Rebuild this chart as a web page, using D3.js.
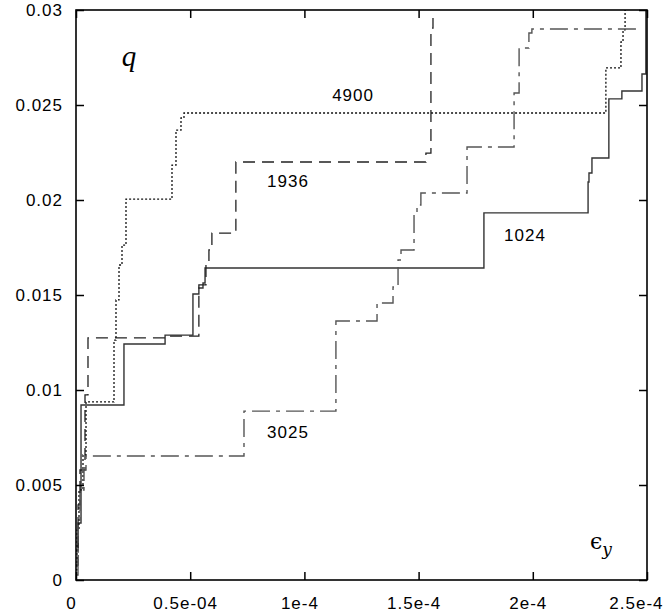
<!DOCTYPE html>
<html>
<head>
<meta charset="utf-8">
<script src="https://cdn.jsdelivr.net/npm/d3@7"></script>
<style>
  body { margin: 0; background: #fff; }
  svg { display: block; }
  .tick text { font-family: "Liberation Sans", Arial, sans-serif; font-size: 17px; letter-spacing: 1px; fill: #000; }
  .lbl { font-family: "Liberation Sans", Arial, sans-serif; font-size: 17px; letter-spacing: 1px; fill: #000; }
</style>
</head>
<body>
<div id="chart"></div>
<script>
// ---- data ----
var xTicks = [0, 0.5e-4, 1e-4, 1.5e-4, 2e-4, 2.5e-4];
var xTickLabels = ["0", "0.5e-04", "1e-4", "1.5e-4", "2e-4", "2.5e-4"];
var yTicks = [0, 0.005, 0.01, 0.015, 0.02, 0.025, 0.03];
var yTickLabels = ["0", "0.005", "0.01", "0.015", "0.02", "0.025", "0.03"];

// N = 1024 (solid)
var eps1024 = [0, 0.9e-6, 2.2e-6, 2.10e-5, 3.90e-5, 5.12e-5, 5.38e-5, 5.56e-5, 5.65e-5, 1.786e-4, 2.242e-4, 2.246e-4, 2.259e-4, 2.333e-4, 2.390e-4, 2.478e-4, 2.495e-4];
var q1024   = [0.00153, 0.0030, 0.00921, 0.01242, 0.01289, 0.01505, 0.01537, 0.01563, 0.01642, 0.01932, 0.02095, 0.02142, 0.02221, 0.02532, 0.02574, 0.02663, 0.030];

// N = 1936 (dashed)
var eps1936 = [0, 0.9e-6, 1.75e-6, 3.94e-6, 5.25e-6, 3.98e-5, 5.38e-5, 5.69e-5, 5.82e-5, 5.95e-5, 7.0e-5, 1.532e-4, 1.554e-4, 1.563e-4];
var q1936   = [0.00079, 0.00395, 0.00579, 0.00974, 0.01274, 0.01284, 0.01553, 0.01674, 0.01737, 0.01826, 0.0220, 0.02247, 0.02905, 0.02958];

// N = 4900 (dotted)
var eps4900 = [0, 0.44e-6, 1.31e-6, 3.06e-6, 4.38e-6, 1.664e-5, 1.751e-5, 1.883e-5, 2.014e-5, 2.189e-5, 4.203e-5, 4.378e-5, 4.597e-5, 4.728e-5, 2.320e-4, 2.386e-4, 2.395e-4, 2.404e-4];
var q4900   = [0.00053, 0.00263, 0.00474, 0.00658, 0.00937, 0.01263, 0.01474, 0.01658, 0.01763, 0.02005, 0.02184, 0.02368, 0.02432, 0.02458, 0.02695, 0.02832, 0.02895, 0.030];

// N = 3025 (dash-dot)
var eps3025 = [0, 0.88e-6, 1.75e-6, 3.5e-6, 4.38e-6, 7.355e-5, 1.138e-4, 1.318e-4, 1.388e-4, 1.410e-4, 1.423e-4, 1.480e-4, 1.493e-4, 1.510e-4, 1.712e-4, 1.918e-4, 1.940e-4, 1.983e-4, 1.996e-4, 2.474e-4];
var q3025   = [0.00026, 0.00316, 0.00474, 0.00579, 0.00653, 0.00889, 0.01363, 0.01458, 0.01542, 0.01684, 0.01737, 0.01932, 0.01974, 0.02037, 0.02279, 0.02563, 0.0280, 0.02879, 0.0290, 0.0290];

// curve labels: text, eps, q (centre)
var labelText = ["4900", "1936", "1024", "3025"];
var labelEps  = [1.213e-4, 0.928e-4, 1.966e-4, 0.928e-4];
var labelQ    = [0.02553, 0.0210, 0.01816, 0.00779];

// ---- drawing ----
var width = 665, height = 613;
var margin = {left: 76, right: 18, top: 10, bottom: 33};

var svg = d3.select("#chart").append("svg")
  .attr("width", width)
  .attr("height", height);

var x = d3.scaleLinear().domain([0, 2.5e-4]).range([margin.left, width - margin.right]);
var y = d3.scaleLinear().domain([0, 0.03]).range([height - margin.bottom, margin.top]);

var line = d3.line()
  .x(function(d) { return x(d[0]); })
  .y(function(d) { return y(d[1]); })
  .curve(d3.curveStepAfter);

function pairs(xs, ys) {
  return xs.map(function(v, i) { return [v, ys[i]]; });
}

var series = [
  {xs: eps1024, ys: q1024, color: "#333", dash: null, w: 1.4},
  {xs: eps1936, ys: q1936, color: "#222", dash: "12,7", w: 1.3},
  {xs: eps4900, ys: q4900, color: "#111", dash: "2,2", w: 1.3},
  {xs: eps3025, ys: q3025, color: "#555", dash: "18,6,4,6", w: 1.4}
];

svg.append("g").selectAll("path")
  .data(series)
  .enter()
  .append("path")
  .attr("d", function(s) { return line(pairs(s.xs, s.ys)); })
  .attr("fill", "none")
  .attr("stroke", function(s) { return s.color; })
  .attr("stroke-width", function(s) { return s.w; })
  .attr("stroke-dasharray", function(s) { return s.dash; });

// axes, ticks pointing inward on all four sides
var tickLen = 8;
var xAxis = d3.axisBottom(x).tickValues(xTicks)
  .tickFormat(function(d, i) { return xTickLabels[i]; })
  .tickSize(-tickLen).tickPadding(17);
var yAxis = d3.axisLeft(y).tickValues(yTicks)
  .tickFormat(function(d, i) { return yTickLabels[i]; })
  .tickSize(-tickLen).tickPadding(13);

var gx = svg.append("g")
  .attr("transform", "translate(0," + y(0) + ")")
  .call(xAxis);
// last label sits against the right edge, as in the original
gx.selectAll(".tick text")
  .attr("dx", function(d, i) { return i === xTicks.length - 1 ? 16 : -5; })
  .attr("text-anchor", function(d, i) { return i === xTicks.length - 1 ? "end" : "middle"; });

svg.append("g")
  .attr("transform", "translate(" + x(0) + ",0)")
  .call(yAxis);

svg.append("g")
  .attr("transform", "translate(0," + y(0.03) + ")")
  .call(d3.axisTop(x).tickValues(xTicks).tickSize(-tickLen).tickFormat(""));

svg.append("g")
  .attr("transform", "translate(" + x(2.5e-4) + ",0)")
  .call(d3.axisRight(y).tickValues(yTicks).tickSize(-tickLen).tickFormat(""));

svg.selectAll(".domain").remove();
svg.selectAll(".tick line").attr("stroke", "#000").attr("stroke-width", 1.5);

// frame
svg.append("rect")
  .attr("x", x(0)).attr("y", y(0.03))
  .attr("width", x(2.5e-4) - x(0))
  .attr("height", y(0) - y(0.03))
  .attr("fill", "none")
  .attr("stroke", "#000")
  .attr("stroke-width", 1.6);

// curve labels
svg.append("g").selectAll("text")
  .data(labelText)
  .enter()
  .append("text")
  .attr("class", "lbl")
  .attr("x", function(d, i) { return x(labelEps[i]); })
  .attr("y", function(d, i) { return y(labelQ[i]); })
  .attr("text-anchor", "middle")
  .attr("dy", "0.36em")
  .text(function(d) { return d; });

// axis names
svg.append("text")
  .attr("x", 129).attr("y", 66)
  .attr("text-anchor", "middle")
  .style("font-family", "'Liberation Serif', 'DejaVu Serif', serif")
  .style("font-style", "italic")
  .style("font-size", "29px")
  .text("q");

var ey = svg.append("text")
  .attr("x", 590).attr("y", 549)
  .style("font-family", "'DejaVu Serif', 'Liberation Serif', serif")
  .style("font-size", "22px");
ey.append("tspan").text("\u03F5");
ey.append("tspan")
  .attr("dy", 6)
  .style("font-style", "italic")
  .style("font-size", "17px")
  .text("y");
</script>
</body>
</html>
